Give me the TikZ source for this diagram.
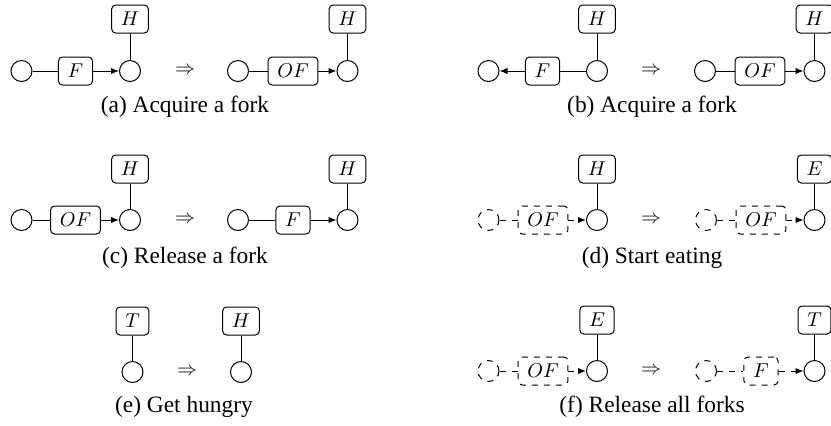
\documentclass[tikz,border=0pt]{standalone}
\usepackage[no-math]{fontspec}
\setmainfont{Liberation Serif}
\usetikzlibrary{arrows.meta}
\begin{document}
\begin{tikzpicture}[x=0.5pt,y=-0.5pt,
  circ/.style={circle,draw,minimum size=10.5pt,inner sep=0pt,line width=0.5pt},
  dcirc/.style={circ,dashed},
  lbl/.style={draw,rounded corners=2pt,minimum height=14pt,inner xsep=4.6pt,inner ysep=0pt,line width=0.5pt},
  dlbl/.style={lbl,dashed},
  conn/.style={line width=0.5pt},
  dconn/.style={conn,dashed},
  arr/.style={conn,-{Latex[length=4pt,width=3.2pt]}},
  darr/.style={arr,dashed},
  imp/.style={inner sep=0pt},
  captext/.style={font=\fontsize{11.7}{14}\selectfont,inner sep=0pt}]
\useasboundingbox (0,0) rectangle (831,425);
% ---------- (a) ----------
\node[circ] (a1) at (21.5,71) {};
\node[lbl] (a2) at (75.5,71) {$F$};
\node[circ] (a3) at (130,71) {};
\node[lbl] (ah) at (130,19) {$H$};
\node[imp] (ai) at (185,71) {$\Rightarrow$};
\node[circ] (a4) at (238,71) {};
\node[lbl] (a5) at (293,71) {$OF$};
\node[circ] (a6) at (347.5,71) {};
\node[lbl] (ah2) at (347.5,19) {$H$};
\node[captext] (acap) at (185,107) {(a) Acquire a fork};
\draw[conn] (a1) -- (a2);
\draw[arr] (a2) -- (a3);
\draw[conn] (ah) -- (a3);
\draw[conn] (a4) -- (a5);
\draw[arr] (a5) -- (a6);
\draw[conn] (ah2) -- (a6);
% ---------- (b) ----------
\node[circ] (b1) at (488.5,71) {};
\node[lbl] (b2) at (542.5,71) {$F$};
\node[circ] (b3) at (597,71) {};
\node[lbl] (bh) at (597,19) {$H$};
\node[imp] (bi) at (651,71) {$\Rightarrow$};
\node[circ] (b4) at (705,71) {};
\node[lbl] (b5) at (760,71) {$OF$};
\node[circ] (b6) at (814.5,71) {};
\node[lbl] (bh2) at (814.5,19) {$H$};
\node[captext] (bcap) at (652,107) {(b) Acquire a fork};
\draw[arr] (b2) -- (b1);
\draw[conn] (b2) -- (b3);
\draw[conn] (bh) -- (b3);
\draw[conn] (b4) -- (b5);
\draw[arr] (b5) -- (b6);
\draw[conn] (bh2) -- (b6);
% ---------- (c) ----------
\node[circ] (c1) at (21.5,220) {};
\node[lbl] (c2) at (75.5,220) {$OF$};
\node[circ] (c3) at (130,220) {};
\node[lbl] (ch) at (130,169) {$H$};
\node[imp] (ci) at (185,220) {$\Rightarrow$};
\node[circ] (c4) at (238,220) {};
\node[lbl] (c5) at (293,220) {$F$};
\node[circ] (c6) at (347.5,220) {};
\node[lbl] (ch2) at (347.5,169) {$H$};
\node[captext] (ccap) at (185,258) {(c) Release a fork};
\draw[conn] (c1) -- (c2);
\draw[arr] (c2) -- (c3);
\draw[conn] (ch) -- (c3);
\draw[conn] (c4) -- (c5);
\draw[arr] (c5) -- (c6);
\draw[conn] (ch2) -- (c6);
% ---------- (d) ----------
\node[dcirc] (d1) at (488.5,220) {};
\node[dlbl] (d2) at (543,220) {$OF$};
\node[circ] (d3) at (597,220) {};
\node[lbl] (dh) at (597,169) {$H$};
\node[imp] (di) at (651,220) {$\Rightarrow$};
\node[dcirc] (d4) at (706,220) {};
\node[dlbl] (d5) at (761,220) {$OF$};
\node[circ] (d6) at (814.5,220) {};
\node[lbl] (dh2) at (814.5,169) {$E$};
\node[captext] (dcap) at (652,258) {(d) Start eating};
\draw[dconn] (d1) -- (d2);
\draw[darr] (d2) -- (d3);
\draw[conn] (dh) -- (d3);
\draw[dconn] (d4) -- (d5);
\draw[darr] (d5) -- (d6);
\draw[conn] (dh2) -- (d6);
% ---------- (e) ----------
\node[circ] (e1) at (132.5,372) {};
\node[lbl] (eh) at (132.5,321) {$T$};
\node[imp] (ei) at (187,372) {$\Rightarrow$};
\node[circ] (e2) at (241,372) {};
\node[lbl] (eh2) at (241,321) {$H$};
\node[captext] (ecap) at (184,407) {(e) Get hungry};
\draw[conn] (eh) -- (e1);
\draw[conn] (eh2) -- (e2);
% ---------- (f) ----------
\node[dcirc] (f1) at (488.5,371) {};
\node[dlbl] (f2) at (543,371) {$OF$};
\node[circ] (f3) at (597,371) {};
\node[lbl] (fh) at (597,320) {$E$};
\node[imp] (fi) at (651,371) {$\Rightarrow$};
\node[dcirc] (f4) at (706,371) {};
\node[dlbl] (f5) at (761,371) {$F$};
\node[circ] (f6) at (814.5,371) {};
\node[lbl] (fh2) at (814.5,320) {$T$};
\node[captext] (fcap) at (652,407) {(f) Release all forks};
\draw[dconn] (f1) -- (f2);
\draw[darr] (f2) -- (f3);
\draw[conn] (fh) -- (f3);
\draw[dconn] (f4) -- (f5);
\draw[darr] (f5) -- (f6);
\draw[conn] (fh2) -- (f6);
\end{tikzpicture}
\end{document}
